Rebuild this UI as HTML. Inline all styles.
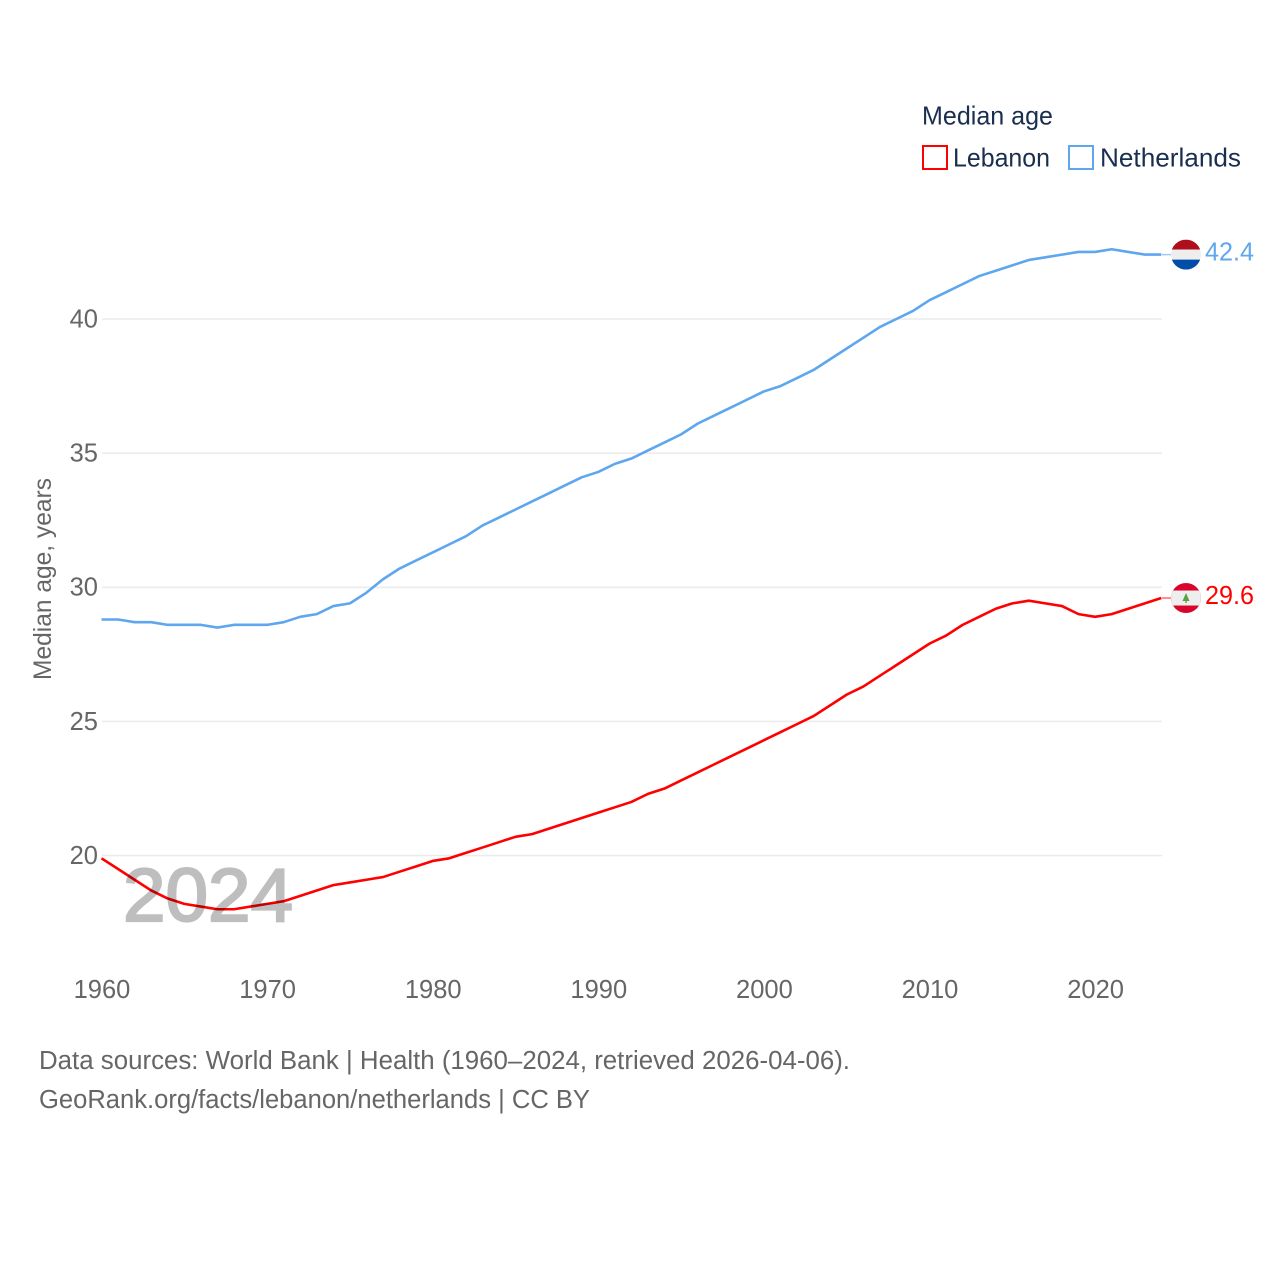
<!DOCTYPE html>
<html lang="en">
<head>
<meta charset="utf-8">
<title>Median age: Lebanon and Netherlands</title>
<style>
html,body{margin:0;padding:0;background:#fff;}
svg{display:block;font-family:"Liberation Sans",sans-serif;}
</style>
</head>
<body>
<svg id="chart" xmlns="http://www.w3.org/2000/svg" width="1280" height="1280" viewBox="0 0 1280 1280">
  <rect x="0" y="0" width="1280" height="1280" fill="#fff"/>
  <g id="grid"></g>
  <g id="yticks"></g>
  <g id="xticks"></g>
  <text transform="translate(51,680) rotate(-90)" font-size="25" fill="#666" textLength="202" lengthAdjust="spacingAndGlyphs">Median age, years</text>
  <g id="series"></g>
  <text x="123" y="921" font-size="75" fill="#000" stroke="#000" stroke-width="2.2" opacity="0.25" textLength="170" lengthAdjust="spacingAndGlyphs">2024</text>

  <g id="end-markers"></g>

  <g>
    <text x="922" y="124.500" font-size="26" fill="#1a2f4f" textLength="131" lengthAdjust="spacingAndGlyphs">Median age</text>
    <rect x="923" y="146" width="24" height="23" fill="#fff" stroke="#ff0000" stroke-width="2"/>
    <text x="953" y="166.500" font-size="26" fill="#1a2f4f" textLength="97" lengthAdjust="spacingAndGlyphs">Lebanon</text>
    <rect x="1069" y="146" width="24" height="23" fill="#fff" stroke="#5ea6ee" stroke-width="2"/>
    <text x="1100" y="166.500" font-size="26" fill="#1a2f4f" textLength="141" lengthAdjust="spacingAndGlyphs">Netherlands</text>
  </g>

  <text x="39" y="1069" font-size="25.500" fill="#666" textLength="811" lengthAdjust="spacingAndGlyphs">Data sources: World Bank | Health (1960–2024, retrieved 2026-04-06).</text>
  <text x="39" y="1108" font-size="25.500" fill="#666" textLength="551" lengthAdjust="spacingAndGlyphs">GeoRank.org/facts/lebanon/netherlands | CC BY</text>
</svg>
<script>
const startYear = 1960;
const xTickLabels = [1960, 1970, 1980, 1990, 2000, 2010, 2020];
const yTickLabels = [20, 25, 30, 35, 40];
const lebanonValues = [19.9,19.5,19.1,18.7,18.4,18.2,18.1,18.0,18.0,18.1,18.2,18.3,18.5,18.7,18.9,19.0,19.1,19.2,19.4,19.6,19.8,19.9,20.1,20.3,20.5,20.7,20.8,21.0,21.2,21.4,21.6,21.8,22.0,22.3,22.5,22.8,23.1,23.4,23.7,24.0,24.3,24.6,24.9,25.2,25.6,26.0,26.3,26.7,27.1,27.5,27.9,28.2,28.6,28.9,29.2,29.4,29.5,29.4,29.3,29.0,28.9,29.0,29.2,29.4,29.6];
const netherlandsValues = [28.8,28.8,28.7,28.7,28.6,28.6,28.6,28.5,28.6,28.6,28.6,28.7,28.9,29.0,29.3,29.4,29.8,30.3,30.7,31.0,31.3,31.6,31.9,32.3,32.6,32.9,33.2,33.5,33.8,34.1,34.3,34.6,34.8,35.1,35.4,35.7,36.1,36.4,36.7,37.0,37.3,37.5,37.8,38.1,38.5,38.9,39.3,39.7,40.0,40.3,40.7,41.0,41.3,41.6,41.8,42.0,42.2,42.3,42.4,42.5,42.5,42.6,42.5,42.4,42.4];

const SVG_NS = 'http://www.w3.org/2000/svg';
const xScale = function (year) { return 101.5 + (year - 1960) * 16.56; };
const yScale = function (value) { return 855.6 - (value - 20) * 26.83; };

function make(tag, attrs, parent) {
  const el = document.createElementNS(SVG_NS, tag);
  Object.keys(attrs).forEach(function (k) { el.setAttribute(k, attrs[k]); });
  parent.appendChild(el);
  return el;
}

const gridGroup = document.getElementById('grid');
const yTickGroup = document.getElementById('yticks');
const xTickGroup = document.getElementById('xticks');
const seriesGroup = document.getElementById('series');
const markerGroup = document.getElementById('end-markers');

yTickLabels.forEach(function (v) {
  const line = make('line', {x1: 102, x2: 1162, y1: yScale(v), y2: yScale(v), stroke: '#ececec', 'stroke-width': 1.6}, gridGroup);
  
  
  const label = make('text', {x: 98, y: yScale(v) + 8.3, 'text-anchor': 'end', 'font-size': 25.5, fill: '#666'}, yTickGroup);
  label.textContent = v;
  
  
});

xTickLabels.forEach(function (y) {
  const label = make('text', {x: xScale(y) + 0.5, y: 998, 'text-anchor': 'middle', 'font-size': 25.5, fill: '#666'}, xTickGroup);
  label.textContent = y;
  
  
});

function linePoints(values) {
  return values.map(function (v, i) {
    return xScale(startYear + i).toFixed(2) + ',' + yScale(v).toFixed(2);
  }).join(' ');
}

const netherlandsLine = make('polyline', {points: linePoints(netherlandsValues), fill: 'none', stroke: '#5ea6ee', 'stroke-width': 2.6, 'stroke-linejoin': 'round'}, seriesGroup);


const lebanonLine = make('polyline', {points: linePoints(lebanonValues), fill: 'none', stroke: '#ff0000', 'stroke-width': 2.6, 'stroke-linejoin': 'round'}, seriesGroup);



function clipCircle(id, cy) {
  const clip = make('clipPath', {id: id}, markerGroup);
  make('circle', {cx: 1186, cy: cy, r: 15}, clip);
}

/* Netherlands end marker */
const nlValue = netherlandsValues[netherlandsValues.length - 1];
const nlY = yScale(nlValue);
const nlLead = make('line', {x1: 1162, x2: 1172, y1: nlY, y2: nlY, stroke: '#5ea6ee', 'stroke-opacity': 0.6, 'stroke-width': 1.5}, markerGroup);


clipCircle('clip-nl', nlY);
const nlFlag = make('g', {'clip-path': 'url(#clip-nl)'}, markerGroup);


make('rect', {x: 1171, y: nlY - 15, width: 30, height: 10, fill: '#ae0f1c'}, nlFlag);
make('rect', {x: 1171, y: nlY - 5, width: 30, height: 10, fill: '#eeeeee'}, nlFlag);
make('rect', {x: 1171, y: nlY + 5, width: 30, height: 10, fill: '#004ea8'}, nlFlag);
const nlLabel = make('text', {x: 1205, y: nlY + 6, 'font-size': 25.5, fill: '#5ea6ee', textLength: 49, lengthAdjust: 'spacingAndGlyphs'}, markerGroup);
nlLabel.textContent = nlValue.toFixed(1);



/* Lebanon end marker */
const lbValue = lebanonValues[lebanonValues.length - 1];
const lbY = yScale(lbValue);
const lbLead = make('line', {x1: 1162, x2: 1172, y1: lbY, y2: lbY, stroke: '#ff0000', 'stroke-opacity': 0.6, 'stroke-width': 1.5}, markerGroup);


clipCircle('clip-lb', lbY);
const lbFlag = make('g', {'clip-path': 'url(#clip-lb)'}, markerGroup);


make('rect', {x: 1171, y: lbY - 15, width: 30, height: 30, fill: '#d9042b'}, lbFlag);
make('rect', {x: 1171, y: lbY - 7.5, width: 30, height: 15, fill: '#eeeeee'}, lbFlag);
make('path', {d: 'M1186 ' + (lbY - 5) + 'l3.500 8h-2.800v2h-1.400v-2h-2.800z', fill: '#5f9e45'}, lbFlag);
const lbLabel = make('text', {x: 1205, y: lbY + 6, 'font-size': 25.5, fill: '#ff0000', textLength: 49, lengthAdjust: 'spacingAndGlyphs'}, markerGroup);
lbLabel.textContent = lbValue.toFixed(1);


</script>
</body>
</html>
